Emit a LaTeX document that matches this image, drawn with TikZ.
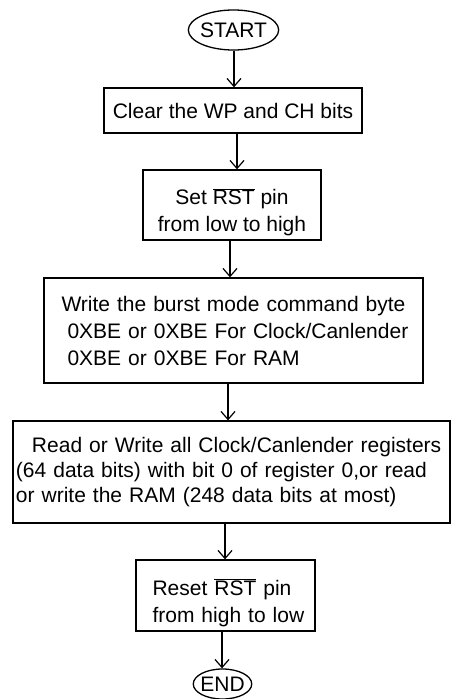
\documentclass[tikz,border=0pt]{standalone}
\usepackage{fontspec}
\setmainfont{Liberation Sans}
\usetikzlibrary{shapes.geometric,arrows.meta}

\begin{document}
\begin{tikzpicture}[x=1pt,y=-1pt,font=\fontsize{21}{27}\selectfont,
  blk/.style={draw,rectangle,line width=1.3pt,inner ysep=0pt},
  term/.style={draw,ellipse,line width=1.3pt,inner xsep=-1.5pt,inner ysep=0pt},
  arr/.style={line width=1.2pt,-{Straight Barb[length=8pt,width=14pt]}}]
\useasboundingbox[fill=white] (0,0) rectangle (452,699);
\node[term,minimum height=40pt] (start) at (233.5,30) {START};
\node[blk,minimum width=258pt,minimum height=45pt,align=center] (clear) at (233,110.5)
   {Clear the WP and CH bits};
\node[blk,minimum width=178pt,minimum height=70pt,align=center] (setpin) at (232,205)
   {\rule{0pt}{31pt}Set $\overline{\mbox{RST}}$ pin\\from low to high};
\node[blk,minimum width=379pt,minimum height=105pt,text width=350pt,inner xsep=14.5pt,align=left] (burst) at (233.5,330.5)
   {\hspace*{3pt}Write the burst mode command byte\\
    \hspace*{9pt}0XBE or 0XBE For Clock/Canlender\\
    \hspace*{9pt}0XBE or 0XBE For RAM};
\node[blk,minimum width=437pt,minimum height=102pt,text width=431pt,inner xsep=3pt,align=left,
   font=\fontsize{21}{25}\selectfont] (access) at (231.5,472)
   {\hspace*{16pt}Read or Write all Clock/Canlender registers\\
    (64 data bits) with bit 0 of register 0,or read\\
    or write the RAM (248 data bits at most)};
\node[blk,minimum width=179pt,minimum height=71pt,text width=160pt,inner xsep=9.5pt,align=left] (resetpin) at (225.5,595.5)
   {\rule{0pt}{31pt}\hspace*{7pt}Reset $\overline{\mbox{RST}}$ pin\\
    \hspace*{7pt}from high to low};
\node[term,minimum height=30pt] (stop) at (222.5,684) {END};
\foreach \a/\b/\dx in {start/clear/0.5,clear/setpin/4,setpin/burst/-2,burst/access/-5.5,access/resetpin/-6.5,resetpin/stop/-3.5}
   \draw[arr] ([xshift=\dx pt]\a.south) -- ([xshift=\dx pt]\a.south |- \b.north);
\end{tikzpicture}
\end{document}
